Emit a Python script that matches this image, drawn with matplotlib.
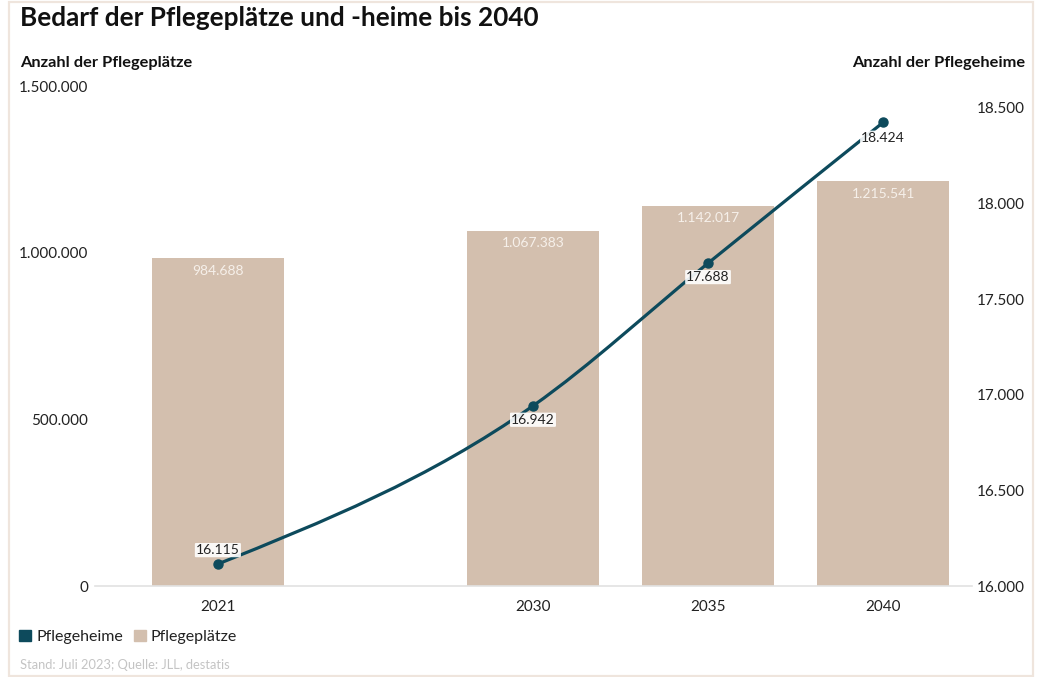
import numpy as np
import matplotlib
matplotlib.use('Agg')
import matplotlib.pyplot as plt
from matplotlib.path import Path
from matplotlib.patches import PathPatch, Patch, Rectangle

plt.rcParams['font.family'] = ['Lato', 'DejaVu Sans']

years = [2021, 2030, 2035, 2040]
plaetze = [984688, 1067383, 1142017, 1215541]
heime = [16115, 16942, 17688, 18424]
left_ticks = [0, 500000, 1000000, 1500000]
right_ticks = [16000, 16500, 17000, 17500, 18000, 18500]

BAR = '#d3bfae'
LINE = '#0d4a5c'
TXT = '#222222'


def de(n):
    # German thousands separator
    return f'{n:,}'.replace(',', '.')


def monotone_path(x, y):
    # d3 curveMonotoneX as cubic bezier segments
    x = np.asarray(x, float)
    y = np.asarray(y, float)
    h = np.diff(x)
    s = np.diff(y) / h
    t = np.zeros(len(x))
    for i in range(1, len(x) - 1):
        p = (s[i - 1] * h[i] + s[i] * h[i - 1]) / (h[i - 1] + h[i])
        t[i] = (np.sign(s[i - 1]) + np.sign(s[i])) * min(abs(s[i - 1]), abs(s[i]), 0.5 * abs(p))
    t[0] = (3 * s[0] - t[1]) / 2
    t[-1] = (3 * s[-1] - t[-2]) / 2
    verts = [(x[0], y[0])]
    codes = [Path.MOVETO]
    for i in range(len(x) - 1):
        dx = h[i] / 3
        verts += [(x[i] + dx, y[i] + dx * t[i]),
                  (x[i + 1] - dx, y[i + 1] - dx * t[i + 1]),
                  (x[i + 1], y[i + 1])]
        codes += [Path.CURVE4] * 3
    return Path(verts, codes)


fig = plt.figure(figsize=(10.37, 6.77), dpi=100)
fig.patches.append(Rectangle((9 / 1037, 1 / 677), 1024 / 1037, 674 / 677,
                             transform=fig.transFigure, fill=False,
                             edgecolor='#efe5dd', linewidth=1.6))

ax = fig.add_axes([95 / 1037, 91 / 677, 877 / 1037, 499.5 / 677])
ax.bar(years, plaetze, width=3.75, color=BAR, zorder=2)
ax.set_xlim(2017.49, 2042.54)
ax.set_ylim(0, 1500000)
ax.set_yticks(left_ticks)
ax.set_yticklabels([de(v) for v in left_ticks])
ax.set_xticks(years)
ax.set_xticklabels([str(y) for y in years])
for sp in ['top', 'left', 'right']:
    ax.spines[sp].set_visible(False)
ax.spines['bottom'].set_color('#e2e2e2')
ax.spines['bottom'].set_linewidth(1.2)
ax.tick_params(axis='both', length=0, labelsize=11, colors=TXT)
ax.tick_params(axis='x', pad=10)
ax.tick_params(axis='y', pad=5)

for x, v in zip(years, plaetze):
    ax.annotate(de(v), (x, v), xytext=(0, -9), textcoords='offset points',
                ha='center', va='center', fontsize=10, color='#f6f0ea', zorder=3)

ax2 = ax.twinx()
ax2.set_ylim(16000, 18612)
ax2.set_yticks(right_ticks)
ax2.set_yticklabels([de(v) for v in right_ticks], ha='right')
for sp in ax2.spines.values():
    sp.set_visible(False)
ax2.tick_params(axis='y', length=0, labelsize=11, colors=TXT, pad=38)

ax2.add_patch(PathPatch(monotone_path(years, heime), facecolor='none',
                        edgecolor=LINE, linewidth=2.3, capstyle='round', zorder=4))
ax2.plot(years, heime, 'o', color=LINE, markersize=6.5, zorder=5)

offsets = [10, -10, -10, -11]
for x, v, off in zip(years, heime, offsets):
    ax2.annotate(de(v), (x, v), xytext=(0, off), textcoords='offset points',
                 ha='center', va='center', fontsize=10, color=TXT, zorder=6,
                 bbox=dict(boxstyle='round,pad=0.08', fc='white', ec='none', alpha=0.9))

fig.text(20 / 1037, 1 - 18 / 677, 'Bedarf der Pflegeplätze und -heime bis 2040',
         fontsize=18.8, fontweight='bold', color='#111111', va='center', ha='left')
fig.text(20 / 1037, 1 - 63 / 677, 'Anzahl der Pflegeplätze', fontsize=11.8,
         fontweight='bold', color='#111111', va='center', ha='left')
fig.text(1025 / 1037, 1 - 63 / 677, 'Anzahl der Pflegeheime', fontsize=11.8,
         fontweight='bold', color='#111111', va='center', ha='right')

handles = [Patch(color=LINE, label='Pflegeheime'), Patch(color=BAR, label='Pflegeplätze')]
fig.legend(handles=handles, loc='center left', bbox_to_anchor=(5 / 1037, 1 - 637 / 677),
           ncol=2, frameon=False, fontsize=11.5, handlelength=0.75, handleheight=0.75,
           handletextpad=0.3, columnspacing=0.7, labelcolor=TXT)

fig.text(20 / 1037, 1 - 665 / 677, 'Stand: Juli 2023; Quelle: JLL, destatis',
         fontsize=9.3, color='#c4c4c4', va='center', ha='left')

fig.savefig('out.png', dpi=100, facecolor='white')
